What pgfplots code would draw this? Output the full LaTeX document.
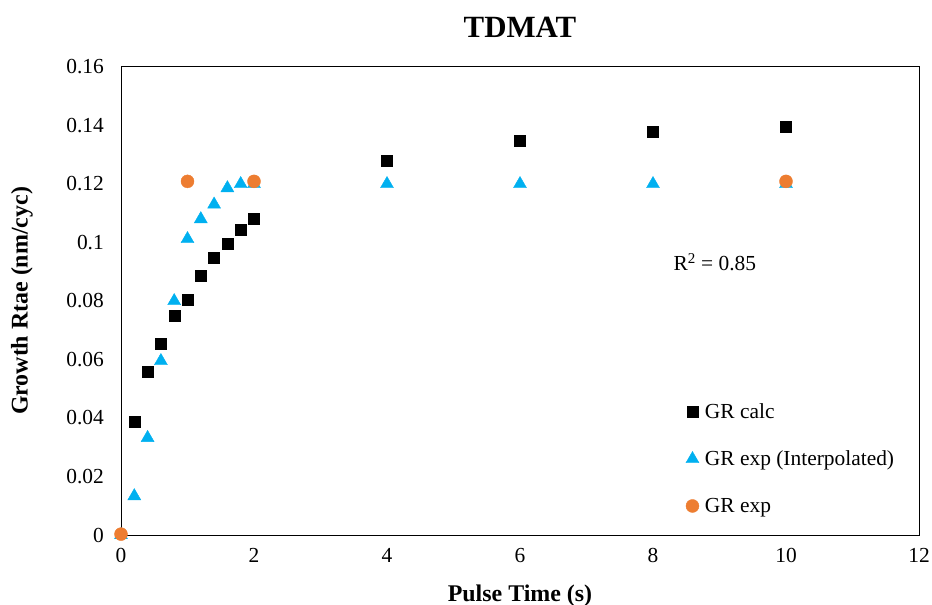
\documentclass[border=0pt]{standalone}
\usepackage{fontspec}
\setmainfont{Liberation Serif}
\usepackage{pgfplots}
\pgfplotsset{compat=1.18}
\definecolor{grcyan}{HTML}{00B0F0}
\definecolor{grorange}{HTML}{ED7D31}
\begin{document}
\begin{tikzpicture}
\begin{axis}[
  scale only axis,
  width=798bp, height=468bp,
  xmin=0, xmax=12, ymin=0, ymax=0.16,
  xtick={0,2,...,12},
  ytick={0,0.02,...,0.16},
  major tick length=0pt,
  axis line style={line width=1bp},
  xticklabel={\pgfmathprintnumber[assume math mode=true]{\tick}},
  yticklabel={\pgfmathprintnumber[assume math mode=true,fixed,precision=2]{\tick}},
  ticklabel style={font=\rmfamily\fontsize{21.5}{26}\selectfont},
  xticklabel style={anchor=base, inner sep=0pt, yshift=-27bp},
  yticklabel style={anchor=east, inner sep=0pt, xshift=-17bp},
  clip=false,
  legend style={draw=none, fill=none, at={(0.704,0.290)}, anchor=north west,
    font=\fontsize{21.5}{26}\selectfont, row sep=27bp,
    /tikz/every odd column/.append style={column sep=4bp}},
  legend cell align=left,
  legend image code/.code={\draw[#1] plot coordinates {(0bp,0bp)};},
]
\addplot[only marks, mark=square*, mark size=5.5bp, black] coordinates {
  (0.2,0.0386) (0.4,0.0557) (0.6,0.0653) (0.8,0.0749) (1.0,0.0803)
  (1.2,0.0885) (1.4,0.0947) (1.6,0.0995) (1.8,0.1043) (2.0,0.1083)
  (4,0.1279) (6,0.1347) (8,0.1380) (10,0.1395)
};
\addlegendentry{GR calc}
\addplot[only marks, mark=triangle*, mark size=7.5bp, color=grcyan] coordinates {
  (0,0) (0.2,0.0133) (0.4,0.0332) (0.6,0.0595) (0.8,0.0800) (1.0,0.1012)
  (1.2,0.1080) (1.4,0.1130) (1.6,0.1186) (1.8,0.1200) (2.0,0.1200)
  (4,0.1200) (6,0.1200) (8,0.1200) (10,0.1200)
};
\addlegendentry{GR exp (Interpolated)}
\addplot[only marks, mark=*, mark size=6.5bp, color=grorange] coordinates {
  (0,0.0003) (1,0.1209) (2,0.1209) (10,0.1209)
};
\addlegendentry{GR exp}
\node[font=\fontsize{21.5}{26}\selectfont] at (axis cs:8.93,0.0933) {R\textsuperscript{2} = 0.85};
\end{axis}
\node[anchor=base, font=\bfseries\fontsize{31}{36}\selectfont] at ([yshift=29bp]current axis.north) {TDMAT};
\node[anchor=base, font=\bfseries\fontsize{24}{28}\selectfont] at ([yshift=-66bp]current axis.south) {Pulse Time (s)};
\node[rotate=90, font=\bfseries\fontsize{24}{28}\selectfont] at ([xshift=-99bp]current axis.west) {Growth Rtae (nm/cyc)};
\pgfresetboundingbox
\path[use as bounding box] ([xshift=-121bp,yshift=-70bp]current axis.south west) rectangle ([xshift=13bp,yshift=67bp]current axis.north east);
\end{tikzpicture}
\end{document}
